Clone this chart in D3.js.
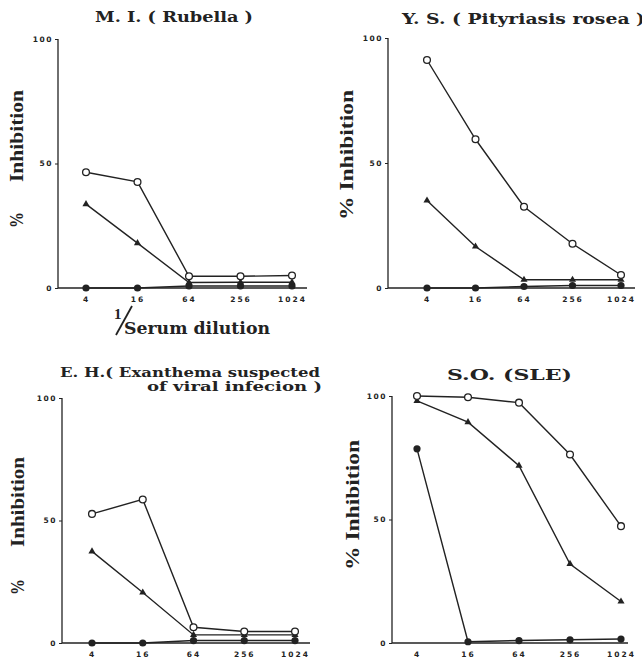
<!DOCTYPE html>
<html>
<head>
<meta charset="utf-8">
<script src="https://cdn.jsdelivr.net/npm/d3@7"></script>
<style>
  body { margin: 0; background: #fff; }
  svg { display: block; }
  .title { font-family: "DejaVu Serif", "Liberation Serif", serif; font-weight: bold; font-size: 14px; fill: #222; }
  .ylab { font-family: "Liberation Serif", "DejaVu Serif", serif; font-weight: bold; font-size: 19px; fill: #222; }
  .tick text { font-family: "DejaVu Sans", sans-serif; font-weight: bold; font-size: 7.5px; fill: #222; }
</style>
</head>
<body>
<div id="chart"></div>
<script>
const svgWidth = 642;
const svgHeight = 665;

// x categories (1/serum dilution) and y ticks
const dilutions = ["4", "16", "64", "256", "1024"];
const yTicks = [0, 50, 100];

// M. I. (Rubella)
const miOpen = [46.5, 42.6, 4.7, 4.7, 5];
const miTriangle = [33.7, 18, 2.2, 2.3, 2.3];
const miDot = [0, 0, 0.8, 0.8, 0.8];

// Y. S. (Pityriasis rosea)
const ysOpen = [91.2, 59.5, 32.5, 17.7, 5.2];
const ysTriangle = [35, 16.6, 3.3, 3.3, 3.3];
const ysDot = [0, 0, 0.6, 1, 1];

// E. H. (Exanthema suspected of viral infection)
const ehOpen = [52.7, 58.6, 6.4, 4.7, 4.7];
const ehTriangle = [37.4, 20.6, 3.3, 3.3, 3.3];
const ehDot = [0, 0, 1, 1, 1];

// S. O. (SLE)
const soOpen = [100, 99.5, 97.3, 76.3, 47.3];
const soTriangle = [98, 89.4, 71.8, 32, 16.8];
const soDot = [78.6, 0.5, 1, 1.3, 1.6];

// layout for each panel
const panels = [
  { open: miOpen, tri: miTriangle, dot: miDot, ax: 58, x0: 86, x1: 292, xEnd: 307, yTop: 39, yBot: 288,
    titles: [{ text: "M. I. ( Rubella )", x: 95, y: 22, w: 158, size: 14 }],
    ylabels: [{ text: "Inhibition", x: 23, y0: 90, y1: 182 }, { text: "%", x: 23, y0: 212, y1: 228 }] },
  { open: ysOpen, tri: ysTriangle, dot: ysDot, ax: 388, x0: 427, x1: 621, xEnd: 635, yTop: 38, yBot: 288,
    titles: [{ text: "Y. S. ( Pityriasis rosea )", x: 402, y: 24, w: 243, size: 14 }],
    ylabels: [{ text: "%  Inhibition", x: 353, y0: 90, y1: 220 }] },
  { open: ehOpen, tri: ehTriangle, dot: ehDot, ax: 62, x0: 92, x1: 295, xEnd: 310, yTop: 398, yBot: 643,
    titles: [{ text: "E. H.( Exanthema suspected", x: 60, y: 377, w: 260, size: 12 },
             { text: "of viral infecion )", x: 147, y: 391, w: 175, size: 12 }],
    ylabels: [{ text: "Inhibition", x: 24, y0: 457, y1: 547 }, { text: "%", x: 24, y0: 579, y1: 595 }] },
  { open: soOpen, tri: soTriangle, dot: soDot, ax: 392, x0: 417, x1: 621, xEnd: 628, yTop: 396, yBot: 643,
    titles: [{ text: "S.O. (SLE)", x: 447, y: 380, w: 125, size: 15 }],
    ylabels: [{ text: "%  Inhibition", x: 359, y0: 440, y1: 570 }] }
];

const svg = d3.select("#chart")
  .append("svg")
  .attr("width", svgWidth)
  .attr("height", svgHeight);

const ink = "#222";

panels.forEach(p => {
  const g = svg.append("g");

  const xScale = d3.scaleLinear().domain([0, dilutions.length - 1]).range([p.x0, p.x1]);
  const yScale = d3.scaleLinear().domain([0, 100]).range([p.yBot, p.yTop]);

  // y axis
  const leftAxis = d3.axisLeft(yScale).tickValues(yTicks).tickSize(3).tickPadding(2);
  const yAxis = g.append("g")
    .attr("transform", `translate(${p.ax}, 0)`)
    .call(leftAxis);
  yAxis.select(".domain").remove();
  yAxis.selectAll("line").attr("stroke", ink);
  yAxis.selectAll("text").attr("letter-spacing", "1.5px");

  g.append("line")
    .attr("x1", p.ax).attr("x2", p.ax)
    .attr("y1", p.yTop).attr("y2", p.yBot)
    .attr("stroke", ink).attr("stroke-width", 1.3);

  // x axis
  const bottomAxis = d3.axisBottom(xScale)
    .tickValues(d3.range(dilutions.length))
    .tickFormat(i => dilutions[i])
    .tickSize(0).tickPadding(9);
  const xAxis = g.append("g")
    .attr("transform", `translate(0, ${p.yBot})`)
    .call(bottomAxis);
  xAxis.select(".domain").remove();
  xAxis.selectAll("text").attr("letter-spacing", "2px");

  g.append("line")
    .attr("x1", p.ax).attr("x2", p.xEnd)
    .attr("y1", p.yBot).attr("y2", p.yBot)
    .attr("stroke", ink).attr("stroke-width", 1.3);

  const line = d3.line()
    .x((d, i) => xScale(i))
    .y(d => yScale(d));

  // series lines
  [p.dot, p.tri, p.open].forEach(series => {
    g.append("path")
      .datum(series)
      .attr("d", line)
      .attr("fill", "none")
      .attr("stroke", ink)
      .attr("stroke-width", 1.4);
  });

  // filled circles
  g.selectAll(".dot")
    .data(p.dot)
    .enter()
    .append("circle")
    .attr("cx", (d, i) => xScale(i))
    .attr("cy", d => yScale(d))
    .attr("r", 3.6)
    .attr("fill", ink);

  // triangles
  g.selectAll(".tri")
    .data(p.tri)
    .enter()
    .append("path")
    .attr("d", d3.symbol(d3.symbolTriangle, 22))
    .attr("transform", (d, i) => `translate(${xScale(i)}, ${yScale(d)})`)
    .attr("fill", ink);

  // open circles
  g.selectAll(".open")
    .data(p.open)
    .enter()
    .append("circle")
    .attr("cx", (d, i) => xScale(i))
    .attr("cy", d => yScale(d))
    .attr("r", 3.4)
    .attr("fill", "#fff")
    .attr("stroke", ink)
    .attr("stroke-width", 1.3);

  // titles
  p.titles.forEach(t => {
    svg.append("text")
      .classed("title", true)
      .attr("x", t.x)
      .attr("y", t.y)
      .style("font-size", t.size + "px")
      .attr("textLength", t.w)
      .attr("lengthAdjust", "spacingAndGlyphs")
      .text(t.text);
  });

  // rotated y labels
  p.ylabels.forEach(l => {
    svg.append("text")
      .classed("ylab", true)
      .attr("transform", `translate(${l.x}, ${l.y1}) rotate(-90)`)
      .attr("textLength", l.y1 - l.y0)
      .attr("lengthAdjust", "spacingAndGlyphs")
      .text(l.text);
  });
});

// x axis title under the first panel
const xTitle = svg.append("g");
xTitle.append("text")
  .attr("x", 114).attr("y", 319)
  .attr("font-family", "Liberation Serif, serif")
  .attr("font-weight", "bold")
  .attr("font-size", 15)
  .attr("fill", ink)
  .text("1");
xTitle.append("line")
  .attr("x1", 116).attr("y1", 335)
  .attr("x2", 132).attr("y2", 306)
  .attr("stroke", ink).attr("stroke-width", 1.8);
xTitle.append("text")
  .attr("x", 124).attr("y", 334)
  .attr("font-family", "DejaVu Serif, serif")
  .attr("font-weight", "bold")
  .attr("font-size", 17)
  .attr("fill", ink)
  .attr("textLength", 146)
  .attr("lengthAdjust", "spacingAndGlyphs")
  .text("Serum dilution");
</script>
</body>
</html>
